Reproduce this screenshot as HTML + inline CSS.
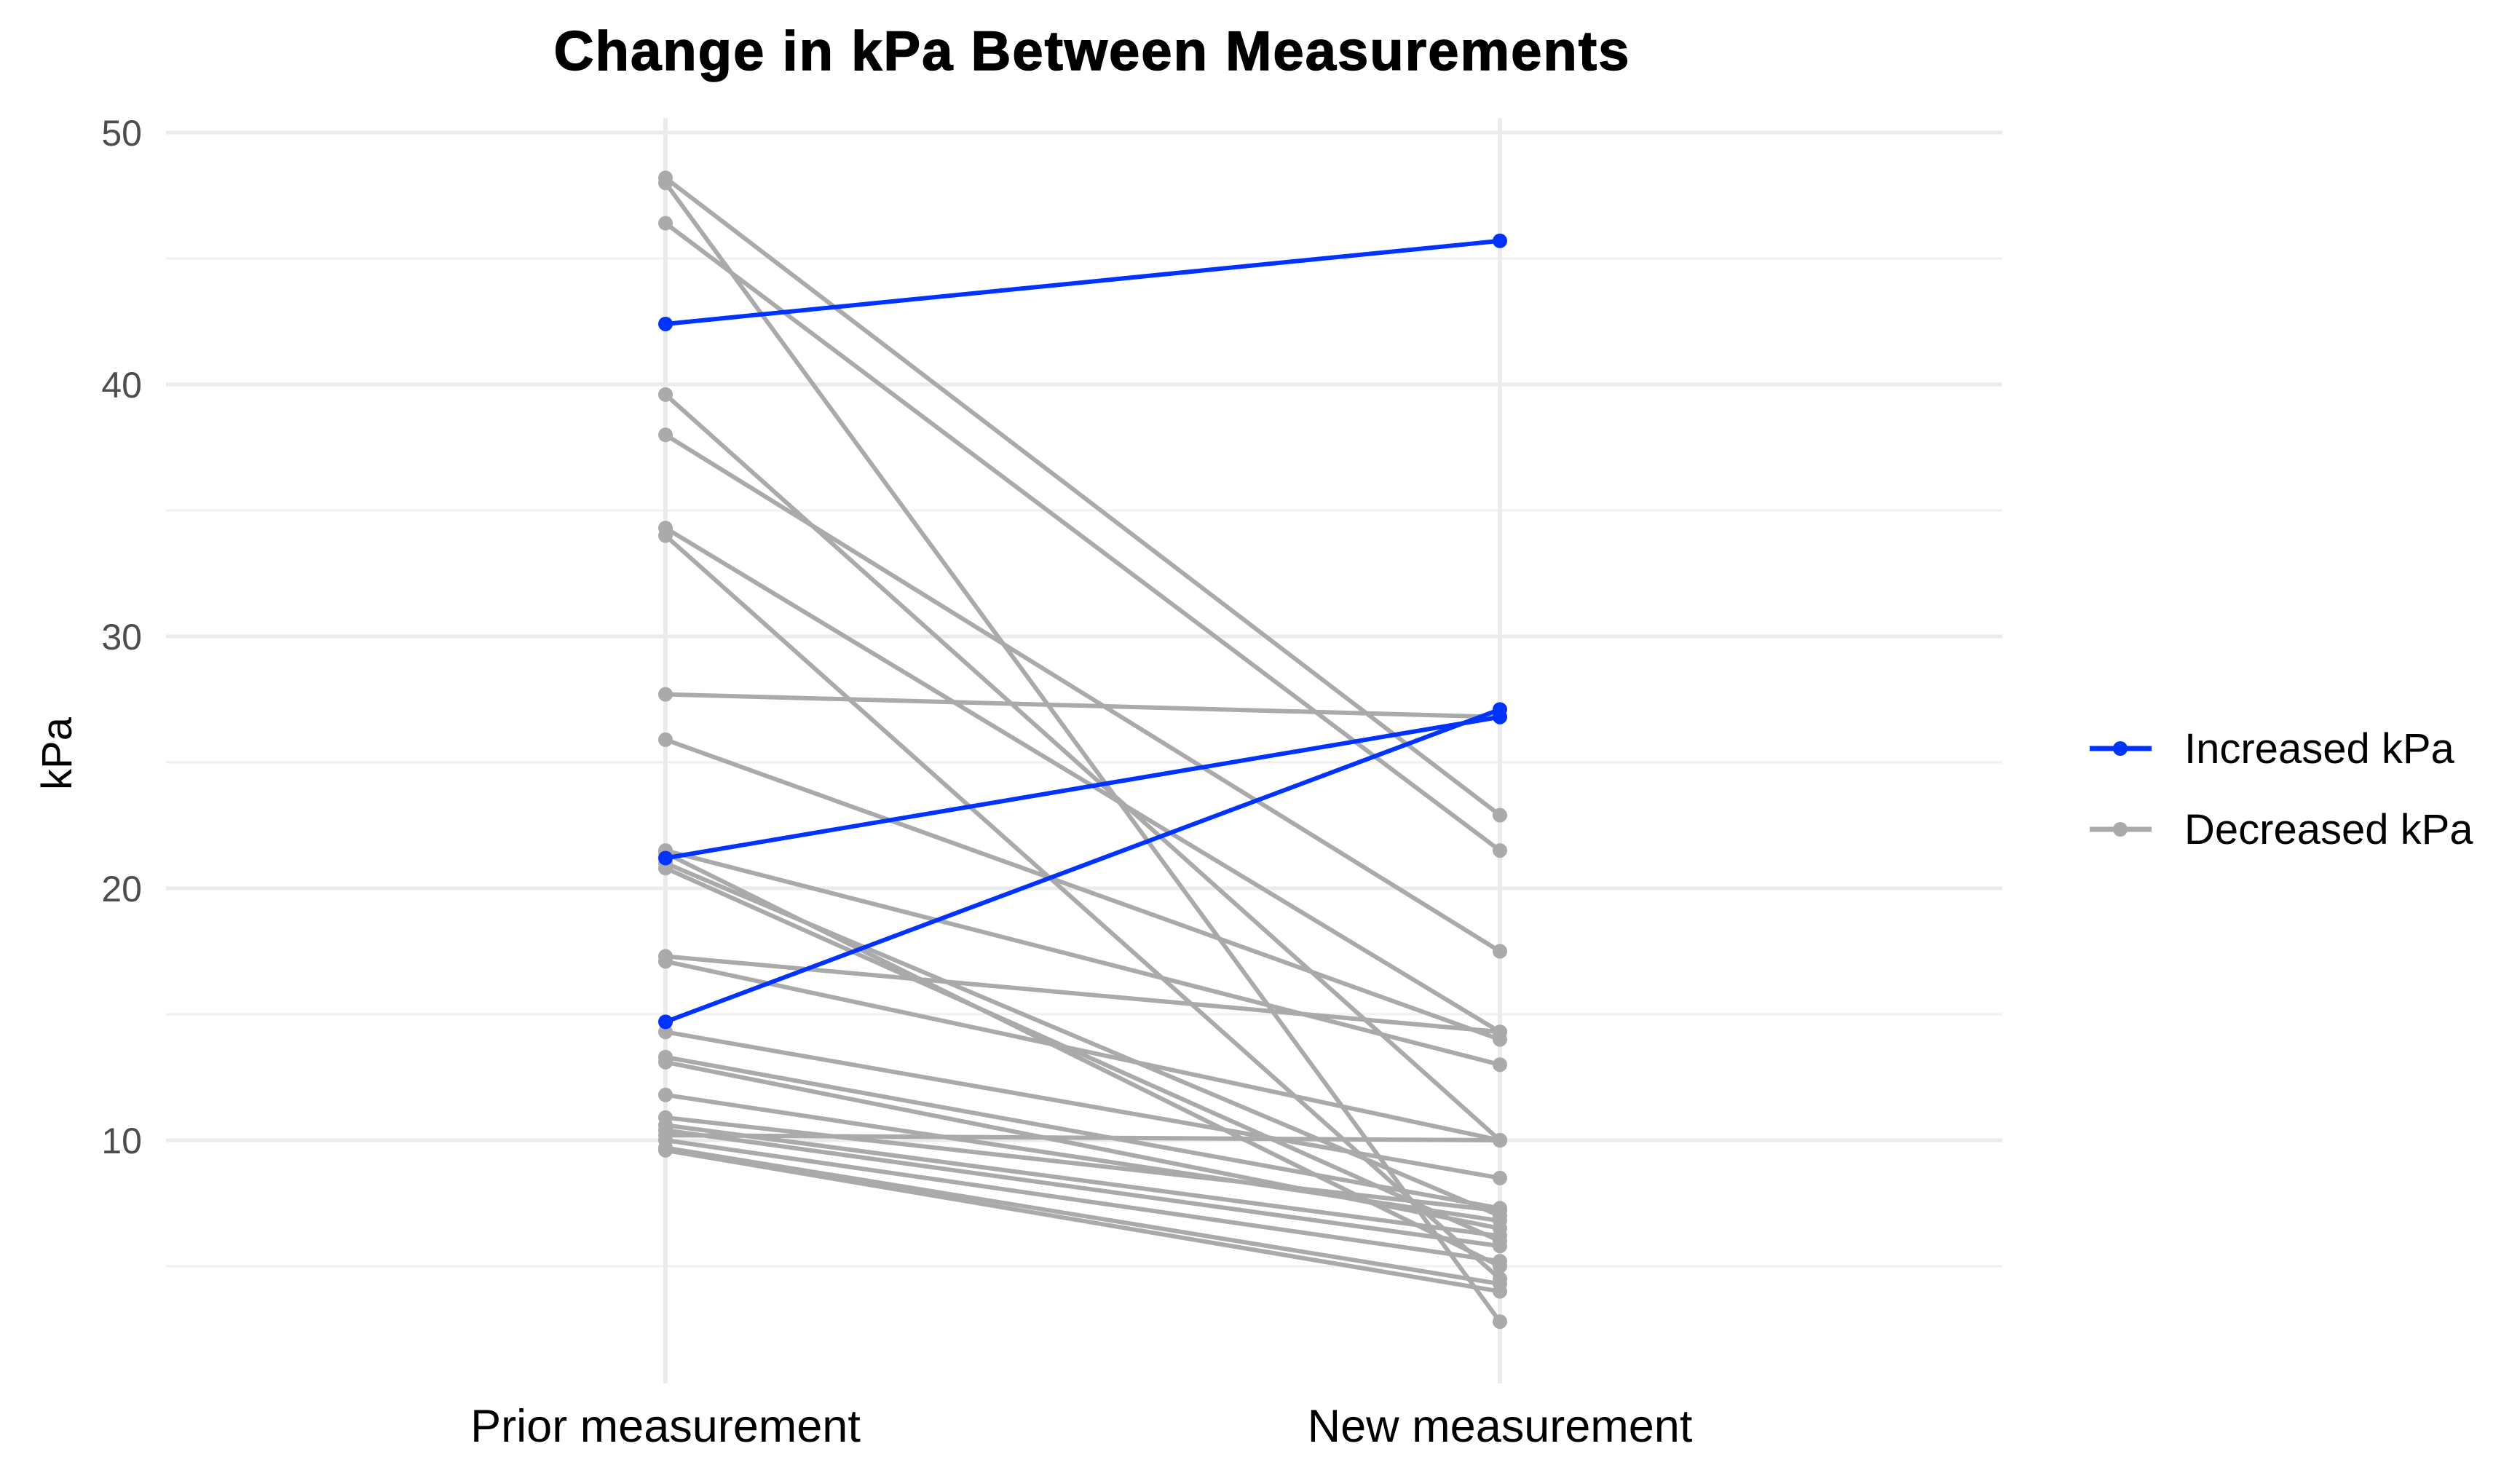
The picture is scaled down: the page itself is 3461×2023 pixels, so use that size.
<!DOCTYPE html>
<html><head><meta charset="utf-8"><style>
html,body{margin:0;padding:0;background:#fff;}
svg{display:block;font-family:"Liberation Sans",sans-serif;}
</style></head><body>
<svg id="chart" width="3461" height="2023" viewBox="0 0 3461 2023" xmlns="http://www.w3.org/2000/svg">
<rect width="3461" height="2023" fill="#fff"/>
<text x="1500" y="96" text-anchor="middle" font-size="76" font-weight="bold" letter-spacing="2" fill="#000" stroke="#000" stroke-width="1.5">Change in kPa Between Measurements</text>
<g id="grid"></g>
<g id="lines"></g>
<g id="axes"></g>
<text transform="translate(98,1035) rotate(-90)" text-anchor="middle" font-size="58" fill="#000">kPa</text>
<g>
<g>
<line x1="2870" y1="1028" x2="2955" y2="1028" stroke="#0033ff" stroke-width="7"/>
<circle cx="2912" cy="1028" r="10" fill="#0033ff"/>
<text x="3000" y="1048" font-size="58" fill="#000">Increased kPa</text></g>
<g>
<line x1="2870" y1="1139" x2="2955" y2="1139" stroke="#aaaaaa" stroke-width="7"/>
<circle cx="2912" cy="1139" r="10" fill="#aaaaaa"/>
<text x="3000" y="1159" font-size="58" fill="#000">Decreased kPa</text></g>
</g>
</svg>
<script>
const categories = ["Prior measurement", "New measurement"];
const priorValues = [48.2, 48.0, 46.4, 42.4, 39.6, 38.0, 34.3, 34.0, 27.7, 25.9, 21.5, 21.2, 21.4, 21.0, 20.8, 17.3, 17.1, 14.7, 14.3, 13.3, 13.1, 11.8, 10.9, 10.6, 10.4, 10.2, 10.0, 9.7, 9.6];
const newValues   = [22.9, 2.8, 21.5, 45.7, 10.0, 17.5, 14.3, 4.5, 26.8, 14.0, 13.0, 26.8, 5.0, 7.0, 6.0, 14.3, 10.0, 27.1, 8.5, 7.3, 6.5, 6.8, 7.2, 6.2, 5.8, 10.0, 5.2, 4.3, 4.0];
const yTicks = [10, 20, 30, 40, 50];
const yMinor = [5, 15, 25, 35, 45];

const NS = "http://www.w3.org/2000/svg";
const yScale = v => 1566 - (v - 10) * 34.6;
const xScale = i => [914, 2060][i];
const L = 228, R = 2750, T = 162, B = 1900;
function mk(tag, attrs, parent) {
  const e = document.createElementNS(NS, tag);
  for (const k in attrs) e.setAttribute(k, attrs[k]);
  parent.appendChild(e); return e;
}
const grid = document.getElementById('grid');
yMinor.forEach(v => {
  const l = mk('line', {x1: L, x2: R, y1: yScale(v), y2: yScale(v), stroke: '#f0f0f0', 'stroke-width': 3}, grid);
  
  
});
yTicks.forEach(v => {
  const l = mk('line', {x1: L, x2: R, y1: yScale(v), y2: yScale(v), stroke: '#ebebeb', 'stroke-width': 5}, grid);
  
  
});
categories.forEach((c, i) => {
  const l = mk('line', {x1: xScale(i), x2: xScale(i), y1: T, y2: B, stroke: '#ebebeb', 'stroke-width': 6}, grid);
  
  
});
const axes = document.getElementById('axes');
yTicks.forEach(v => {
  const t = mk('text', {x: 195, y: yScale(v) + 18, 'text-anchor': 'end', 'font-size': 50, fill: '#4d4d4d'}, axes);
  t.textContent = v;
  
  
});
categories.forEach((c, i) => {
  const t = mk('text', {x: xScale(i), y: 1980, 'text-anchor': 'middle', 'font-size': 63, fill: '#000'}, axes);
  t.textContent = c;
  
  
});
const lines = document.getElementById('lines');
const order = priorValues.map((p, i) => i).sort((a, b) => (newValues[a] > priorValues[a]) - (newValues[b] > priorValues[b]));
order.forEach(i => {
  const inc = newValues[i] > priorValues[i];
  const col = inc ? '#0033ff' : '#aaaaaa';
  const g = mk('g', {}, lines);
  
  
  mk('line', {x1: xScale(0), y1: yScale(priorValues[i]), x2: xScale(1), y2: yScale(newValues[i]), stroke: col, 'stroke-width': 6}, g);
  mk('circle', {cx: xScale(0), cy: yScale(priorValues[i]), r: 10, fill: col}, g);
  mk('circle', {cx: xScale(1), cy: yScale(newValues[i]), r: 10, fill: col}, g);
});
</script>
</body></html>
